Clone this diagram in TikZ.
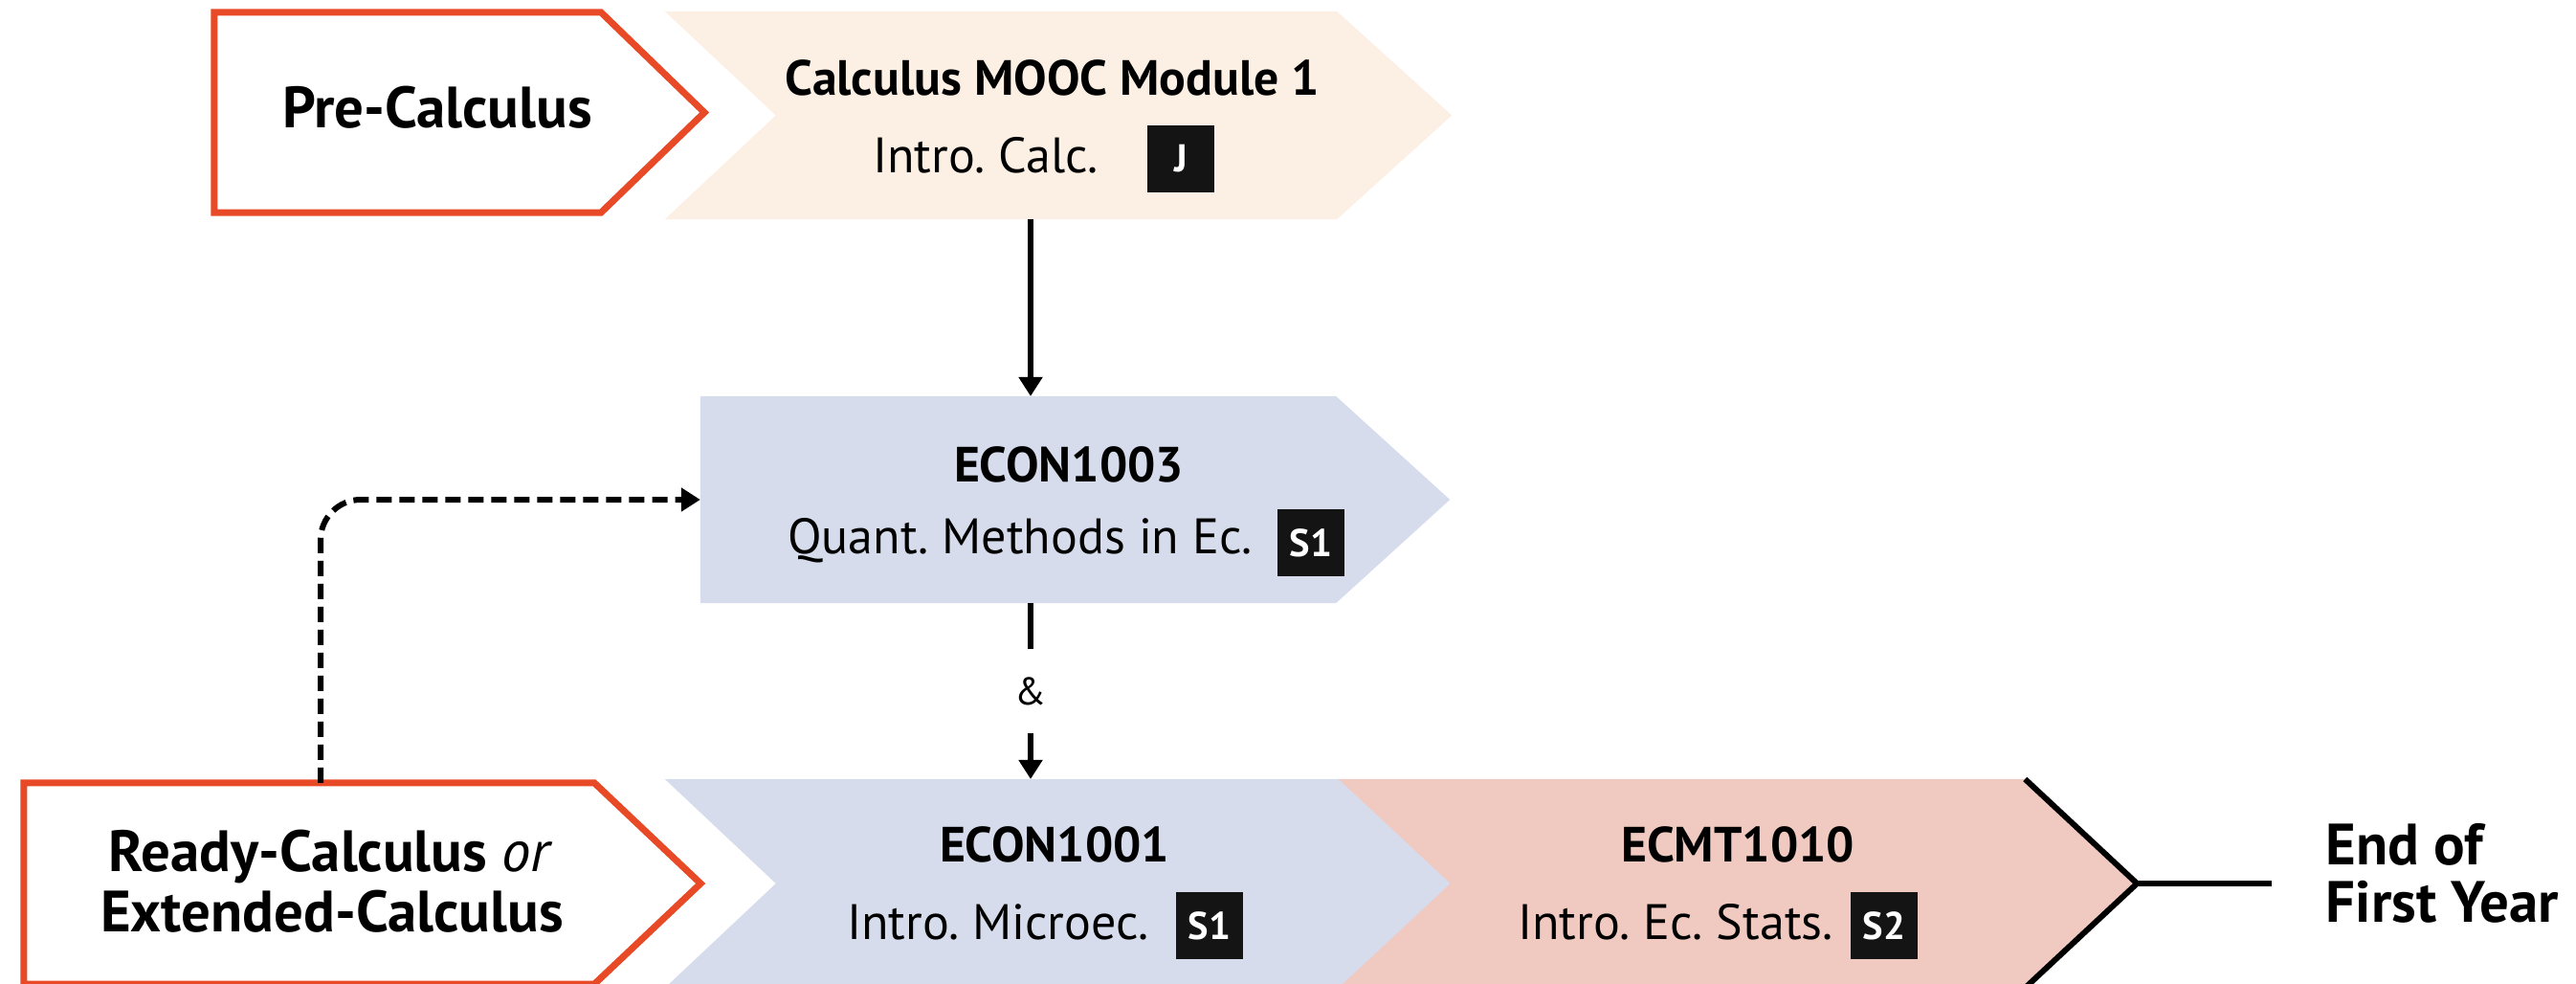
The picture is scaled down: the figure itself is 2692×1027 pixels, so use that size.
\documentclass[tikz,border=0pt]{standalone}
\usepackage{fontspec}
\setmainfont{PT Sans}
\usetikzlibrary{arrows.meta,calc}
\definecolor{redl}{RGB}{232,74,39}
\definecolor{peach}{RGB}{252,239,227}
\definecolor{lav}{RGB}{214,220,236}
\definecolor{pinkc}{RGB}{240,202,192}
\definecolor{badgec}{RGB}{20,20,20}
\frenchspacing
\begin{document}
\begin{tikzpicture}[x=0.01cm,y=-0.01cm,
  body/.style={inner sep=0,outer sep=0,minimum width=#1},
  lbl/.style={font=\bfseries\fontsize{17.3}{20}\selectfont, inner sep=0},
  code/.style={font=\bfseries\fontsize{14.7}{17}\selectfont, inner sep=0},
  desc/.style={font=\fontsize{14.8}{18}\selectfont, inner sep=0},
  badge/.style={fill=badgec, text=white, font=\bfseries\fontsize{11.5}{13}\selectfont, minimum width=0.7cm, minimum height=0.69cm, inner sep=0},
  redbox/.style={draw=redl, line width=0.07cm, fill=white, line join=miter},
  arr/.style={line width=0.06cm, -{Triangle[length=0.2cm,width=0.24cm]}},
  darr/.style={line width=0.06cm, dash pattern=on 0.16cm off 0.08cm, rounded corners=0.42cm, -{Triangle[length=0.2cm,width=0.24cm]}}
]
\useasboundingbox (0,0) rectangle (2692,1027);

% body nodes
\node[body=4.04cm, minimum height=2.09cm] (pre) at (426,117.5) {};
\node[body=7.02cm, minimum height=2.17cm] (mooc) at (1046,120.5) {};
\node[body=6.64cm, minimum height=2.16cm] (e1003) at (1064,522) {};
\node[body=5.96cm, minimum height=2.10cm] (ready) at (323,923) {};
\node[body=7.06cm, minimum height=2.18cm] (e1001) at (1048,923) {};
\node[body=7.17cm, minimum height=2.18cm] (ecmt) at (1757.5,923) {};

% shapes
\draw[redbox] (pre.north west) -- (pre.north east) -- ($(pre.east)+(108,0)$) -- (pre.south east) -- (pre.south west) -- cycle;
\fill[peach] (mooc.north west) -- (mooc.north east) -- ($(mooc.east)+(120,0)$) -- (mooc.south east) -- (mooc.south west) -- ($(mooc.west)+(116,0)$) -- cycle;
\fill[lav] (e1003.north west) -- (e1003.north east) -- ($(e1003.east)+(119,0)$) -- (e1003.south east) -- (e1003.south west) -- cycle;
\draw[redbox] (ready.north west) -- (ready.north east) -- ($(ready.east)+(111,0)$) -- (ready.south east) -- (ready.south west) -- cycle;
\fill[lav] (e1001.north west) -- (e1001.north east) -- ($(e1001.east)+(117,0)$) -- (e1001.south east) -- (e1001.south west) -- ($(e1001.west)+(116,0)$) -- cycle;
\fill[pinkc] (ecmt.north west) -- (ecmt.north east) -- ($(ecmt.east)+(117,0)$) -- (ecmt.south east) -- (ecmt.south west) -- ($(ecmt.west)+(117,0)$) -- cycle;
\coordinate (ecmttip) at ($(ecmt.east)+(117,0)$);
\draw[line width=0.06cm, line join=miter] (ecmt.north east) -- (ecmttip) -- (ecmt.south east);

% texts
\node[lbl, anchor=base] (pretxt) at (457,133) {Pre-Calculus};
\node[code, anchor=base] (moocT) at (1100,99) {Calculus MOOC Module 1};
\node[desc, anchor=base] (moocD) at (1030,180) {Intro. Calc.};
\node[badge] (bJ) at (1234,166) {J};

\node[code, anchor=base] (e1003T) at (1117,503) {ECON1003};
\node[desc, anchor=base] (e1003D) at (1066,578) {Quant. Methods in Ec.};
\node[badge] (bS1a) at (1370,567) {S1};

\node[lbl, anchor=base] (ready1) at (346,910) {Ready-Calculus \textit{\mdseries or}};
\node[lbl, anchor=base] (ready2) at (347,973) {Extended-Calculus};

\node[code, anchor=base] (e1001T) at (1102,900) {ECON1001};
\node[desc, anchor=base] (e1001D) at (1043,981) {Intro. Microec.};
\node[badge] (bS1b) at (1264,967) {S1};

\node[code, anchor=base] (ecmtT) at (1816,900) {ECMT1010};
\node[desc, anchor=base] (ecmtD) at (1751,981) {Intro. Ec. Stats.};
\node[badge] (bS2) at (1969,967) {S2};

\node[lbl, anchor=base west] (end1) at (2430,903) {End of};
\node[lbl, anchor=base west] (end2) at (2430,963) {First Year};

% connectors
\coordinate (ax) at (1077,0);
\draw[arr] (ax |- mooc.south) -- (ax |- e1003.north);
\draw[arr] (ax |- e1003.south) -- node[fill=white, minimum height=0.88cm, inner sep=1pt, font=\fontsize{11.5}{13}\selectfont] (amp) {\&} (ax |- e1001.north);
\coordinate (dx) at (335,0);
\draw[darr] (dx |- ready.north) |- (e1003.west);
\coordinate (endin) at (2374,923);
\draw[line width=0.06cm] (ecmttip) -- (endin);
\end{tikzpicture}
\end{document}
